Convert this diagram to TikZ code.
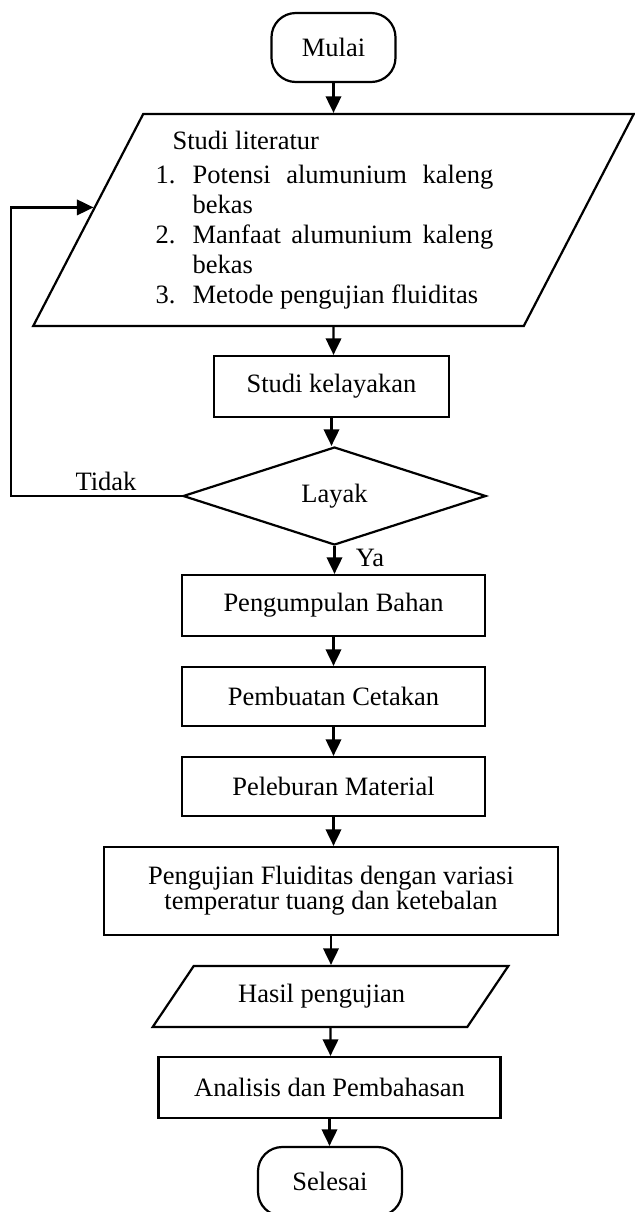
\documentclass[tikz,border=0pt]{standalone}
\usepackage{fontspec}
\setmainfont{Liberation Serif}
\usetikzlibrary{arrows.meta,shapes.geometric}
\newcommand{\pxu}{0.453pt}

\begin{document}
\begin{tikzpicture}[x=0.453pt, y=-0.453pt, line width=1pt,
    font=\fontsize{12}{13.6}\selectfont,
    box/.style={draw, rectangle, inner sep=0pt, minimum height=61*\pxu},
    term/.style={draw, rectangle, rounded corners=11pt, minimum width=124*\pxu, minimum height=69*\pxu},
    io/.style={draw, trapezium, trapezium stretches=true, inner sep=0pt},
    decision/.style={draw, diamond, aspect=3.1, inner sep=0pt, minimum width=303*\pxu, minimum height=98*\pxu},
    arrow/.style={-{Triangle[length=7.5pt, width=7pt]}}]
    \useasboundingbox (0,0) rectangle (635,1212);

    % Start
    \node[term] (mulai) at (333.5,47.5) {Mulai};

    % Literature study
    \node[io, trapezium left angle=60, trapezium right angle=120,
          minimum width=602*\pxu, minimum height=212*\pxu] (literatur) at (333.5,220) {%
        \begin{minipage}{153pt}
            \hspace*{7.7pt}Studi literatur\\[1.8pt]
            \makebox[16.8pt][l]{1.}Potensi\hfill alumunium\hfill kaleng\\
            \hspace*{16.8pt}bekas\\
            \makebox[16.8pt][l]{2.}Manfaat\hfill alumunium\hfill kaleng\\
            \hspace*{16.8pt}bekas\\
            \makebox[16.8pt][l]{3.}Metode pengujian fluiditas
        \end{minipage}\hspace*{8.2pt}};

    % Feasibility
    \node[box, minimum width=235*\pxu] (kelayakan) at (331.5,386.5) {Studi kelayakan};
    \node[decision] (layak) at (334.5,496) {Layak};

    % Process steps
    \node[box, minimum width=303*\pxu] (bahan) at (333.5,605.5) {Pengumpulan Bahan};
    \node[box, minimum width=303*\pxu, minimum height=59*\pxu] (cetakan) at (333.5,696.5) {Pembuatan Cetakan};
    \node[box, minimum width=303*\pxu, minimum height=59*\pxu] (lebur) at (333.5,786.5) {Peleburan Material};
    \node[box, minimum width=454*\pxu, minimum height=88*\pxu, align=center,
          font=\fontsize{12}{11.3}\selectfont] (uji) at (331,891) {Pengujian Fluiditas dengan variasi\\temperatur tuang dan ketebalan};
    \node[io, trapezium left angle=41, trapezium right angle=139,
          minimum width=356*\pxu, minimum height=61*\pxu] (hasil) at (330.5,996.5) {Hasil pengujian\hspace*{8pt}};
    \node[box, minimum width=342*\pxu] (analisis) at (329.5,1087.5) {Analisis dan Pembahasan};

    % End
    \node[term, minimum width=144*\pxu] (selesai) at (330,1181.5) {Selesai};

    % Labels
    \node (tidak) at (106,481) {Tidak};
    \node (ya) at (370,558) {Ya};

    % Arrows
    \draw[arrow] (mulai) -- (mulai |- literatur.north);
    \draw[arrow] (literatur) -- (literatur |- kelayakan.north);
    \draw[arrow] (kelayakan) -- (kelayakan |- layak.north);
    \draw[arrow] (layak) -- (layak |- bahan.north);
    \draw[arrow] (bahan) -- (bahan |- cetakan.north);
    \draw[arrow] (cetakan) -- (cetakan |- lebur.north);
    \draw[arrow] (lebur) -- (lebur |- uji.north);
    \draw[arrow] (uji) -- (uji |- hasil.north);
    \draw[arrow] (hasil) -- (hasil |- analisis.north);
    \draw[arrow] (analisis) -- (analisis |- selesai.north);

    % Loop back
    \coordinate (back) at (11,496);
    \draw[arrow] (layak.west) -- (back) |- (literatur.177);
\end{tikzpicture}
\end{document}
